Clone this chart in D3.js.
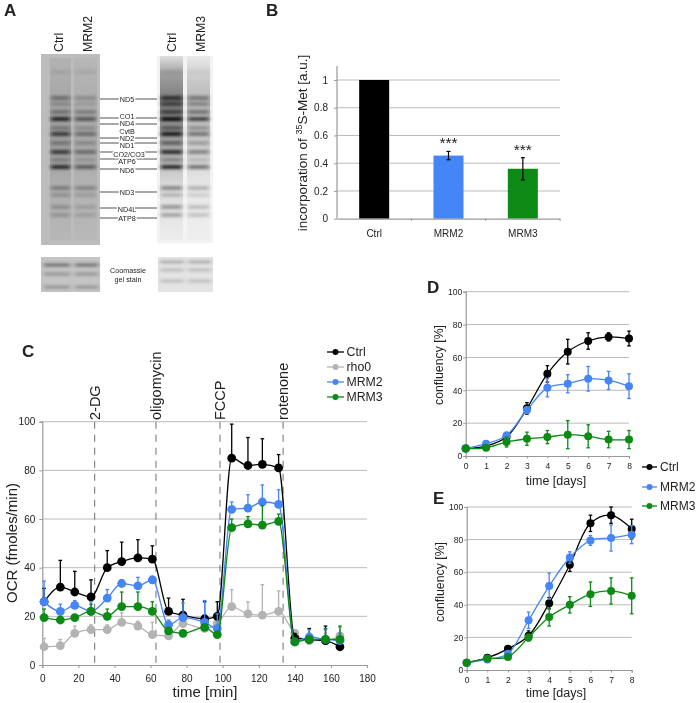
<!DOCTYPE html>
<html><head><meta charset="utf-8">
<script src="https://cdn.jsdelivr.net/npm/d3@7/dist/d3.min.js"></script>
<style>html,body{margin:0;padding:0;background:#fff}svg{display:block}text{font-family:"Liberation Sans",Arial,sans-serif;fill:#222}</style>
</head><body><svg id="c" width="700" height="703"></svg>
<script>
const colCtrl="#000000",colRho="#b3b3b3",colM2="#4585f5",colM3="#0a8a12";
// Panel A
const gelBandY=[72,98,104,112,119,128,134,143,152,160,167,188,195,207,215];
const laneA1=[.08,.38,.2,.35,.85,.3,.7,.3,.7,.25,.8,.32,.2,.22,.2];
const laneA2=[.08,.22,.12,.3,.55,.2,.4,.22,.4,.15,.5,.28,.15,.15,.14];
const laneA3=[.1,.7,.55,.6,1,.45,.9,.45,.8,.3,.85,.4,.2,.35,.3];
const laneA4=[.05,.4,.3,.42,.7,.28,.45,.25,.4,.15,.5,.25,.12,.2,.18];
const gelLabels=["ND5","CO1","ND4","CytB","ND2","ND1","CO2/CO3","ATP6","ND6","ND3","ND4L","ATP8"];
const gelLabelY=[99,116,123,131,138,145,154,161,170,192,209,218];
const gelLineY=[99,118,124,null,138,143,152,159,169,192,208,218];
const coomassieY1=[265,274,287], coomassieV1=[.45,.25,.25];
const coomassieY2=[262,270,281], coomassieV2=[.25,.18,.18];
// Panel B
const barCats=["Ctrl","MRM2","MRM3"];
const barVals=[1,0.455,0.36];
const barErr=[0,0.03,0.08];
const barStars=["","***","***"];
const barTicks=[0,0.2,0.4,0.6,0.8,1];
// Panel C
const ocrT=[1,10,18,27,36,44,53,61,70,78,90,97,105,114,122,131,140,148,157,165];
const ocrCtrl=[26,32,30,28,40,42.5,44,43.5,22,20.5,19,20,85,82,82.5,81,11,10.5,10,7.5];
const ocrCtrlE=[5.5,11,8.5,7,7,8,7.5,5.5,5.5,6.5,7,6,14,11.5,10.5,5.5,2,4.5,6,2];
const ocrRho=[7.5,8,13,14.5,14.5,17.5,16,12.5,12,17,15,17,24,21,20.5,22,13,10,10,12];
const ocrRhoE=[3.5,2.5,3,2,2,4,2,5,2,3,3,3,7,5,12.5,8.5,1.5,3,3,3.5];
const ocrM2=[26,22,24.5,22,27.5,33.5,32.5,35,16.5,19.5,17.5,15,64,64.5,67,66,9.5,11.5,10.5,10];
const ocrM2E=[8.5,3,2,4,3.5,1.5,3.5,1.5,2,6,9,6,3,5.5,7,6,1,3,4,3];
const ocrM3=[19.5,18.5,19.5,22,20,24,24,22,14,13,15.5,12.5,56.5,58,57.5,59,9.5,10.5,10.5,10.5];
const ocrM3E=[3.5,1,1,3,3,6,6,4,1,1,1,1,3.5,3,8,3,1,1,4.5,5.5];
const ocrDrugs=["2-DG","oligomycin","FCCP","rotenone"];
const ocrDrugT=[29,63,98.5,133.5];
// Panel D, E
const days=[0,1,2,3,4,5,6,7,8];
const dCtrl=[4.5,6,11.5,29,50,63.5,70,72.5,71.5];
const dCtrlE=[.5,1,1,3.5,5,7.5,5,2.5,4.5];
const dM2=[4.5,7.5,12.5,28,41.5,44,47,46,42.5];
const dM2E=[.5,1,2,2,5.5,5.5,7.5,5.5,7.5];
const dM3=[4.5,5,8.5,10.5,11.5,13,12,10,10];
const dM3E=[.5,1,3,4,4,8.5,7,5,5.5];
const eCtrl=[4.5,7.5,13,21,41,64.5,90,95,86.5];
const eCtrlE=[.5,1,1,3,3.5,4,5,5,6];
const eM2=[4.5,6.5,10,30.5,51.5,69,79.5,81,83];
const eM2E=[.5,1,1.5,5,8,3.5,3,8,5.5];
const eM3=[4.5,7,8,20,32.5,40,46.5,48.5,45.5];
const eM3E=[.5,1,1,2,5.5,5,7.5,8,11];

const svg=d3.select("#c");
const defs=svg.append("defs");
const f=defs.append("filter").attr("id","blur").attr("x","-20%").attr("y","-20%").attr("width","140%").attr("height","140%");
f.append("feGaussianBlur").attr("stdDeviation","2 1.7");
const fs=defs.append("filter").attr("id","soft");
fs.append("feGaussianBlur").attr("stdDeviation","0.35");
const root=svg.append("g").attr("filter","url(#soft)");
function label(t,x,y){root.append("text").attr("x",x).attr("y",y).attr("font-size",17).attr("font-weight","bold").text(t);}
label("A",4,16);label("B",266,16);label("C",22,357);label("D",427,293);label("E",433,504);

// Gels
const intensity=d3.scaleLinear().domain([0,1]).range([0,.95]);
function smear(id,stops){const g=defs.append("linearGradient").attr("id",id).attr("x1",0).attr("y1",0).attr("x2",0).attr("y2",1);
 stops.forEach(s=>g.append("stop").attr("offset",s[0]).attr("stop-color","#000").attr("stop-opacity",s[1]));}
smear("s1",[[0,.05],[.25,.12],[.5,.16],[.7,.07],[1,.03]]);
smear("s2",[[0,.03],[.25,.08],[.5,.1],[.7,.05],[1,.02]]);
smear("s3",[[0,.08],[.1,.35],[.25,.5],[.5,.3],[.7,.1],[1,.03]]);
smear("s4",[[0,.04],[.1,.15],[.25,.25],[.5,.15],[.7,.05],[1,.02]]);
function lane(g,x,w,top,bot,sid,vals){
 g.append("rect").attr("x",x).attr("y",top).attr("width",w).attr("height",bot-top).attr("fill",`url(#${sid})`);
 const bands=g.append("g").attr("filter","url(#blur)");
 bands.selectAll("rect").data(gelBandY).join("rect").attr("x",x+1).attr("width",w-2).attr("y",d=>d-2).attr("height",4)
  .attr("fill","#000").attr("opacity",(d,i)=>intensity(vals[i]));
}
const gA=root.append("g");
gA.append("rect").attr("x",41).attr("y",54).attr("width",59).attr("height",191).attr("fill","#bcbcbc");
gA.append("rect").attr("x",157).attr("y",56).attr("width",56).attr("height",187).attr("fill","#f3f3f3");
lane(gA,50,21,58,240,"s1",laneA1);
lane(gA,74,23,58,240,"s2",laneA2);
lane(gA,160,23,56,240,"s3",laneA3);
lane(gA,187,23,56,240,"s4",laneA4);
function topLabel(t,x,y,fs){root.append("text").attr("transform",`translate(${x},${y}) rotate(-90)`).attr("font-size",fs).text(t);}
[["Ctrl",63],["MRM2",92],["Ctrl",176],["MRM3",205]].forEach(d=>topLabel(d[0],d[1],52,12.3));
gelLineY.forEach(y=>{if(y!==null)gA.append("line").attr("x1",100).attr("x2",157).attr("y1",y).attr("y2",y).attr("stroke","#222").attr("stroke-width",.8);});
gA.selectAll("text.gl").data(gelLabels).join("text").attr("class","gl").attr("x",d=>d==="CO2/CO3"?129:127).attr("y",(d,i)=>gelLabelY[i]+2.5)
 .attr("text-anchor","middle").attr("font-size",7.2).attr("stroke","#fff").attr("stroke-width",3).attr("paint-order","stroke").text(d=>d);
function coomassie(x,w,bg,ys,vs,lanes){
 const g=root.append("g");
 g.append("rect").attr("x",x).attr("y",257).attr("width",w).attr("height",35).attr("fill",bg);
 const b=g.append("g").attr("filter","url(#blur)");
 lanes.forEach(l=>b.append("g").selectAll("rect").data(ys).join("rect").attr("x",l[0]).attr("width",l[1]).attr("y",d=>d-1.5).attr("height",3).attr("fill","#000").attr("opacity",(d,i)=>vs[i]));
}
coomassie(41,59,"#c4c4c4",coomassieY1,coomassieV1,[[44,26],[75,23]]);
coomassie(158,55,"#e4e4e4",coomassieY2,coomassieV2,[[160,24],[188,23]]);
root.append("text").attr("x",128).attr("y",273).attr("text-anchor","middle").attr("font-size",7.2).text("Coomassie");
root.append("text").attr("x",128).attr("y",282).attr("text-anchor","middle").attr("font-size",7.2).text("gel stain");

function styleAxis(g,fs){g.selectAll(".domain").attr("stroke","#999").attr("stroke-width",1.2);g.selectAll(".tick line").attr("stroke","#999");g.selectAll("text").attr("font-size",fs).style("font-family",'"Liberation Sans",Arial,sans-serif').style("fill","#222");}

// Panel B
{
 const x=d3.scaleBand().domain(barCats).range([337,560]);
 const y=d3.scaleLinear().domain([0,1]).range([218.7,80]);
 const g=root.append("g");
 g.selectAll("line.g").data(barTicks.slice(1)).join("line").attr("x1",337).attr("x2",560).attr("y1",d=>y(d)).attr("y2",d=>y(d)).attr("stroke","#bbb").attr("stroke-width",1);
 g.selectAll("rect").data(barCats).join("rect").attr("x",d=>x(d)+x.bandwidth()/2-15).attr("width",30).attr("y",(d,i)=>y(barVals[i])).attr("height",(d,i)=>y(0)-y(barVals[i])).attr("fill",(d,i)=>[colCtrl,colM2,colM3][i]);
 const eb=barCats.map((c,i)=>({c,v:barVals[i],e:barErr[i],s:barStars[i]})).filter(d=>d.e>0);
 eb.forEach(d=>{const cx=x(d.c)+x.bandwidth()/2;
  g.append("line").attr("x1",cx).attr("x2",cx).attr("y1",y(d.v-d.e)).attr("y2",y(d.v+d.e)).attr("stroke","#000").attr("stroke-width",1.2);
  [d.v-d.e,d.v+d.e].forEach(v=>g.append("line").attr("x1",cx-2).attr("x2",cx+2).attr("y1",y(v)).attr("y2",y(v)).attr("stroke","#000").attr("stroke-width",1.2));
  g.append("text").attr("x",cx).attr("y",y(d.v+d.e)-3).attr("text-anchor","middle").attr("font-size",15.5).text(d.s);
 });
 const ay=g.append("g").attr("transform","translate(337,0)").call(d3.axisLeft(y).tickValues(barTicks).tickSize(3).tickPadding(6).tickFormat(d3.format("~g")));
 ay.select(".domain").remove();
 g.append("line").attr("x1",337).attr("x2",337).attr("y1",66).attr("y2",218.7).attr("stroke","#999").attr("stroke-width",1.2);
 styleAxis(ay,10);
 const ax=g.append("g").attr("transform","translate(0,218.7)").call(d3.axisBottom(x).tickSize(0).tickPadding(11));
 styleAxis(ax,10);
 g.selectAll("line.t").data([411.3,485.7,560]).join("line").attr("x1",d=>d).attr("x2",d=>d).attr("y1",218.7).attr("y2",221).attr("stroke","#999");
 const t=g.append("text").attr("transform","translate(307,143) rotate(-90)").attr("text-anchor","middle").attr("font-size",13.5);
 t.append("tspan").text("incorporation of ");
 t.append("tspan").attr("font-size",9).attr("dy",-5).text("35");
 t.append("tspan").attr("dy",5).text("S-Met [a.u.]");
}

function series(g,x,y,ts,vals,errs,col,r,both,curve){
 const line=d3.line().x((d,i)=>x(ts[i])).y(d=>y(d)).curve(curve);
 const eg=g.append("g").attr("stroke",col).attr("stroke-width",1.3);
 eg.selectAll("line.v").data(vals).join("line").attr("x1",(d,i)=>x(ts[i])).attr("x2",(d,i)=>x(ts[i])).attr("y1",(d,i)=>both?y(d-errs[i]):y(d)).attr("y2",(d,i)=>y(d+errs[i]));
 eg.selectAll("line.c").data(vals).join(enter=>enter.append("line").attr("class","c")).attr("x1",(d,i)=>x(ts[i])-1.8).attr("x2",(d,i)=>x(ts[i])+1.8).attr("y1",(d,i)=>y(d+errs[i])).attr("y2",(d,i)=>y(d+errs[i]));
 if(both) eg.selectAll("line.b").data(vals).join(enter=>enter.append("line").attr("class","b")).attr("x1",(d,i)=>x(ts[i])-1.8).attr("x2",(d,i)=>x(ts[i])+1.8).attr("y1",(d,i)=>y(d-errs[i])).attr("y2",(d,i)=>y(d-errs[i]));
 g.append("path").attr("d",line(vals)).attr("fill","none").attr("stroke",col).attr("stroke-width",1.3);
 g.append("g").selectAll("circle").data(vals).join("circle").attr("cx",(d,i)=>x(ts[i])).attr("cy",d=>y(d)).attr("r",r).attr("fill",col);
}
function legend(names,cols,x0,x1,tx,ys,fs,r){
 names.forEach((n,i)=>{
  root.append("line").attr("x1",x0).attr("x2",x1).attr("y1",ys[i]).attr("y2",ys[i]).attr("stroke",cols[i]).attr("stroke-width",1.3);
  root.append("circle").attr("cx",(x0+x1)/2).attr("cy",ys[i]).attr("r",r).attr("fill",cols[i]);
  root.append("text").attr("x",tx).attr("y",ys[i]+4.3).attr("font-size",fs).text(n);
 });
}

// Panel C
{
 const x=d3.scaleLinear().domain([0,180]).range([42.3,367]);
 const y=d3.scaleLinear().domain([0,100]).range([665,421.7]);
 const g=root.append("g");
 g.selectAll("line.g").data([20,40,60,80,100]).join("line").attr("x1",x(0)).attr("x2",x(180)).attr("y1",d=>y(d)).attr("y2",d=>y(d)).attr("stroke","#bbb").attr("stroke-width",1);
 const ay=g.append("g").attr("transform",`translate(${x(0)},0)`).call(d3.axisLeft(y).tickValues([0,20,40,60,80,100]).tickSize(3).tickPadding(4));
 styleAxis(ay,10);
 const ax=g.append("g").attr("transform",`translate(0,${y(0)})`).call(d3.axisBottom(x).tickValues(d3.range(0,181,20)).tickSize(3).tickPadding(6.5));
 styleAxis(ax,10);
 ocrDrugT.forEach((t,i)=>{
  g.append("line").attr("x1",x(t)).attr("x2",x(t)).attr("y1",y(100)).attr("y2",y(0)).attr("stroke","#888").attr("stroke-width",1.2).attr("stroke-dasharray","7 6");
  g.append("text").attr("transform",`translate(${x(t)+5},420) rotate(-90)`).attr("font-size",14.5).text(ocrDrugs[i]);
 });
 const cv=d3.curveMonotoneX;
 series(g,x,y,ocrT,ocrRho,ocrRhoE,colRho,4.4,false,cv);
 series(g,x,y,ocrT,ocrCtrl,ocrCtrlE,colCtrl,4.4,false,cv);
 series(g,x,y,ocrT,ocrM2,ocrM2E,colM2,4.4,false,cv);
 series(g,x,y,ocrT,ocrM3,ocrM3E,colM3,4.4,false,cv);
 g.append("text").attr("transform","translate(17,543) rotate(-90)").attr("text-anchor","middle").attr("font-size",15).text("OCR (fmoles/min)");
 g.append("text").attr("x",205).attr("y",697).attr("text-anchor","middle").attr("font-size",15).text("time [min]");
 legend(["Ctrl","rho0","MRM2","MRM3"],[colCtrl,colRho,colM2,colM3],327,344,346.5,[352,367,382,397],12.3,3);
}

function growth(x0,x1,y0,y100,dat,tx,ty,ly){
 const x=d3.scaleLinear().domain([0,8]).range([x0,x1]);
 const y=d3.scaleLinear().domain([0,100]).range([y0,y100]);
 const g=root.append("g");
 g.selectAll("line.g").data([20,40,60,80,100]).join("line").attr("x1",x(0)).attr("x2",x(8)).attr("y1",d=>y(d)).attr("y2",d=>y(d)).attr("stroke","#bbb").attr("stroke-width",1);
 const ay=g.append("g").attr("transform",`translate(${x0},0)`).call(d3.axisLeft(y).tickValues([0,20,40,60,80,100]).tickSize(2.5).tickPadding(1));
 styleAxis(ay,8.5);
 const ax=g.append("g").attr("transform",`translate(0,${y0})`).call(d3.axisBottom(x).tickValues(days).tickSize(2.5).tickPadding(4.5));
 styleAxis(ax,8.5);
 dat.forEach(d=>series(g,x,y,days,d[0],d[1],d[2],4,true,d3.curveCatmullRom.alpha(.5)));
 g.append("text").attr("transform",`translate(${x0-22.5},${ly}) rotate(-90)`).attr("text-anchor","middle").attr("font-size",12.3).text("confluency [%]");
 g.append("text").attr("x",tx).attr("y",ty).attr("text-anchor","middle").attr("font-size",12.5).text("time [days]");
}
growth(465.7,629,456,291.7,[[dCtrl,dCtrlE,colCtrl],[dM2,dM2E,colM2],[dM3,dM3E,colM3]],556,485,365);
growth(466.7,631.7,670,507,[[eCtrl,eCtrlE,colCtrl],[eM2,eM2E,colM2],[eM3,eM3E,colM3]],556,697,582);
legend(["Ctrl","MRM2","MRM3"],[colCtrl,colM2,colM3],642,657,660,[467,487,506],12,3);
</script></body></html>
